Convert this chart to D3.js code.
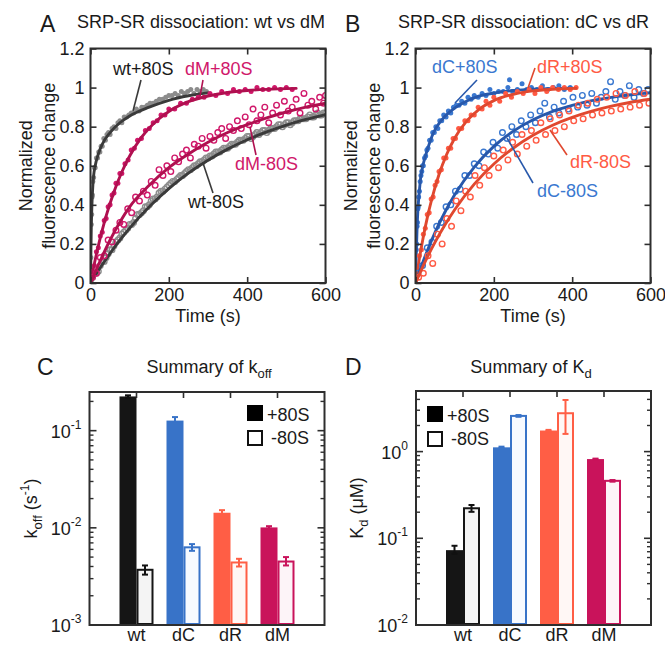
<!DOCTYPE html>
<html><head><meta charset="utf-8">
<script src="https://cdn.jsdelivr.net/npm/d3@7"></script>
<style>
body{margin:0;background:#fff}
svg{display:block}
text{font-family:Arial,"Liberation Sans",Helvetica,sans-serif;fill:#1a1a1a}
</style>
</head><body>
<svg id="fig" width="665" height="646"></svg>
<script>
// ---------- Kinetic traces: [time (s), normalized fluorescence change] ----------
const wtPlusPts = [[0,0.01],[1,0.13],[2,0.30],[3,0.35],[4,0.44],[5,0.45],[6,0.52],[8,0.54],[10,0.59],[12,0.59],[15,0.64],[18,0.64],[21,0.67],[24,0.67],[27,0.70],[30,0.70],[34,0.74],[38,0.73],[42,0.76],[46,0.77],[50,0.76],[55,0.79],[60,0.80],[65,0.79],[70,0.82],[75,0.83],[80,0.82],[86,0.85],[92,0.85],[98,0.86],[104,0.87],[110,0.87],[117,0.89],[124,0.88],[131,0.90],[138,0.90],[145,0.91],[152,0.92],[160,0.92],[168,0.93],[176,0.94],[184,0.94],[192,0.95],[200,0.96],[208,0.96],[216,0.97],[224,0.96],[232,0.98],[240,0.97],[248,0.98],[256,0.99],[264,0.97],[272,0.99],[280,0.98],[288,0.99],[296,0.98]];
const wtPlusFit = [[0,0],[1,0.15],[2,0.28],[3,0.36],[4,0.42],[6,0.50],[8,0.55],[12,0.60],[20,0.66],[30,0.71],[50,0.77],[75,0.82],[100,0.855],[150,0.90],[200,0.935],[250,0.958],[300,0.973]];
const wtMinusPts = [[0,0.00],[5,0.03],[10,0.05],[15,0.05],[20,0.06],[25,0.09],[30,0.11],[35,0.11],[40,0.13],[45,0.15],[50,0.17],[55,0.17],[60,0.19],[65,0.21],[70,0.22],[75,0.23],[80,0.25],[85,0.26],[90,0.27],[95,0.28],[100,0.30],[105,0.30],[110,0.31],[115,0.33],[120,0.35],[125,0.35],[130,0.36],[135,0.37],[140,0.39],[145,0.39],[150,0.40],[155,0.42],[160,0.43],[165,0.43],[170,0.44],[175,0.46],[180,0.47],[185,0.47],[190,0.48],[195,0.49],[200,0.50],[205,0.51],[210,0.52],[215,0.52],[220,0.53],[225,0.54],[230,0.55],[235,0.55],[240,0.56],[245,0.57],[250,0.58],[255,0.58],[260,0.59],[265,0.60],[270,0.60],[275,0.61],[280,0.62],[285,0.62],[290,0.63],[295,0.64],[300,0.64],[305,0.65],[310,0.65],[315,0.66],[320,0.67],[325,0.67],[330,0.67],[335,0.68],[340,0.69],[345,0.69],[350,0.69],[355,0.70],[360,0.71],[365,0.71],[370,0.71],[375,0.72],[380,0.73],[385,0.73],[390,0.73],[395,0.74],[400,0.75],[405,0.75],[410,0.74],[415,0.75],[420,0.76],[425,0.77],[430,0.76],[435,0.77],[440,0.78],[445,0.78],[450,0.77],[455,0.78],[460,0.79],[465,0.79],[470,0.79],[475,0.80],[480,0.81],[485,0.81],[490,0.80],[495,0.81],[500,0.82],[505,0.82],[510,0.81],[515,0.82],[520,0.83],[525,0.83],[530,0.83],[535,0.84],[540,0.84],[545,0.84],[550,0.84],[555,0.85],[560,0.86],[565,0.85],[570,0.85],[575,0.86],[580,0.87],[585,0.86],[590,0.86],[595,0.87],[600,0.87]];
const wtMinusFit = [[0,0],[25,0.079],[50,0.152],[75,0.219],[100,0.281],[150,0.390],[200,0.483],[250,0.562],[300,0.628],[350,0.685],[400,0.733],[450,0.773],[500,0.808],[550,0.837],[600,0.862]];
const dMPlusPts = [[0,0.0],[5,0.06],[10,0.09],[15,0.16],[20,0.18],[25,0.24],[30,0.26],[35,0.32],[40,0.33],[45,0.39],[50,0.40],[55,0.45],[60,0.46],[65,0.51],[70,0.51],[75,0.56],[80,0.56],[88,0.61],[96,0.63],[104,0.68],[112,0.69],[120,0.73],[130,0.74],[140,0.78],[150,0.79],[160,0.82],[170,0.83],[180,0.86],[190,0.86],[200,0.89],[215,0.89],[230,0.92],[245,0.92],[260,0.94],[275,0.95],[290,0.95],[305,0.97],[320,0.96],[335,0.98],[350,0.97],[365,0.99],[380,0.98],[395,0.99],[410,0.98],[425,1.00],[440,0.99],[455,0.99],[470,1.00],[485,0.99],[500,1.00],[515,0.99]];
const dMPlusFit = [[0,0],[10,0.10],[20,0.19],[30,0.27],[40,0.343],[60,0.467],[80,0.568],[100,0.65],[130,0.745],[160,0.814],[200,0.878],[250,0.928],[300,0.957],[350,0.975],[400,0.985],[450,0.991],[525,0.996]];
const dMMinusPts = [[5,0.03],[15,0.05],[25,0.13],[35,0.14],[45,0.22],[55,0.21],[65,0.27],[75,0.31],[85,0.30],[95,0.38],[105,0.36],[115,0.44],[125,0.42],[135,0.47],[145,0.45],[155,0.52],[165,0.50],[175,0.58],[185,0.55],[195,0.60],[205,0.57],[215,0.64],[225,0.62],[235,0.66],[245,0.68],[255,0.64],[265,0.71],[275,0.70],[285,0.74],[295,0.69],[305,0.75],[315,0.73],[325,0.77],[335,0.79],[345,0.74],[355,0.80],[365,0.78],[375,0.83],[385,0.79],[395,0.85],[405,0.81],[415,0.89],[425,0.83],[435,0.86],[445,0.90],[455,0.82],[465,0.87],[475,0.91],[485,0.86],[495,0.93],[505,0.88],[515,0.90],[525,0.94],[535,0.87],[545,0.97],[555,0.91],[565,0.93],[575,0.89],[585,0.95],[595,0.92],[600,0.96]];
const dMMinusFit = [[0,0],[50,0.22],[100,0.39],[150,0.50],[200,0.59],[250,0.66],[300,0.72],[350,0.77],[400,0.81],[450,0.845],[500,0.875],[550,0.90],[600,0.92]];

const dCPlusPts = [[0,0.0],[1,0.08],[2,0.17],[3,0.20],[4,0.29],[5,0.31],[6,0.38],[7,0.39],[8,0.44],[10,0.47],[12,0.52],[14,0.55],[16,0.57],[18,0.60],[20,0.60],[23,0.64],[26,0.65],[29,0.68],[32,0.69],[36,0.73],[40,0.73],[44,0.77],[48,0.77],[52,0.80],[57,0.79],[62,0.83],[67,0.83],[72,0.86],[78,0.85],[84,0.88],[90,0.87],[97,0.90],[104,0.91],[111,0.91],[118,0.93],[126,0.92],[134,0.95],[142,0.94],[150,0.96],[160,0.95],[170,0.97],[180,0.96],[190,0.99],[200,0.97],[212,0.98],[224,0.98],[236,1.00],[240,1.04],[248,0.98],[260,0.99],[272,1.02],[284,0.99],[296,1.00],[310,0.99],[324,1.01],[338,0.99],[352,1.00],[366,1.01],[380,0.99],[395,1.00]];
const dCPlusFit = [[0,0],[2,0.15],[4,0.28],[6,0.37],[9,0.45],[13,0.535],[20,0.61],[30,0.68],[45,0.765],[65,0.83],[90,0.88],[120,0.92],[160,0.955],[200,0.972],[250,0.985],[300,0.992],[400,0.997]];
const dRPlusPts = [[0,0.01],[5,0.05],[10,0.14],[15,0.17],[20,0.25],[25,0.28],[30,0.35],[35,0.36],[40,0.43],[45,0.44],[50,0.50],[55,0.52],[60,0.57],[66,0.58],[72,0.64],[78,0.64],[84,0.69],[90,0.69],[96,0.74],[102,0.74],[110,0.79],[118,0.79],[126,0.83],[134,0.83],[142,0.86],[150,0.86],[160,0.90],[170,0.89],[180,0.93],[190,0.91],[200,0.95],[215,0.93],[230,0.97],[245,0.95],[260,0.98],[275,0.97],[290,0.99],[305,0.97],[320,1.00],[335,0.98],[350,1.00],[365,0.99],[380,1.00],[395,0.99],[410,1.00]];
const dRPlusFit = [[0,0],[10,0.126],[20,0.237],[30,0.333],[40,0.417],[60,0.555],[80,0.66],[100,0.741],[130,0.827],[160,0.885],[200,0.933],[250,0.966],[300,0.983],[350,0.991],[410,0.996]];
const dCMinusPts = [[6,0.05],[18,0.09],[30,0.18],[42,0.21],[54,0.29],[66,0.31],[78,0.39],[90,0.40],[102,0.47],[114,0.48],[126,0.55],[138,0.55],[150,0.61],[162,0.60],[174,0.67],[186,0.66],[198,0.72],[210,0.69],[222,0.77],[234,0.74],[246,0.80],[258,0.76],[270,0.83],[282,0.80],[294,0.86],[306,0.82],[318,0.88],[330,0.92],[342,0.85],[354,0.90],[366,0.87],[378,0.93],[390,0.89],[402,0.95],[414,0.90],[426,0.96],[438,0.91],[450,0.97],[462,0.92],[474,0.95],[486,0.98],[498,1.03],[510,0.94],[522,0.98],[534,0.96],[546,1.01],[558,0.95],[570,0.99],[582,0.97],[594,0.99]];
const dCMinusFit = [[0,0],[25,0.139],[50,0.259],[75,0.362],[100,0.451],[150,0.593],[200,0.699],[250,0.777],[300,0.835],[350,0.878],[400,0.909],[450,0.933],[500,0.950],[550,0.963],[600,0.973]];
const dRMinusPts = [[8,0.03],[20,0.05],[32,0.14],[44,0.10],[56,0.25],[68,0.20],[80,0.33],[92,0.29],[104,0.42],[116,0.37],[128,0.47],[140,0.44],[152,0.55],[164,0.50],[176,0.59],[188,0.55],[200,0.65],[212,0.59],[224,0.68],[236,0.63],[248,0.72],[260,0.66],[272,0.76],[284,0.70],[296,0.78],[308,0.73],[320,0.82],[332,0.76],[344,0.84],[356,0.78],[368,0.86],[380,0.80],[392,0.88],[404,0.83],[416,0.91],[428,0.84],[440,0.92],[452,0.86],[464,0.94],[476,0.87],[488,0.95],[500,0.88],[512,0.97],[524,0.89],[536,0.96],[548,0.90],[560,0.98],[572,0.91],[584,0.97],[596,0.92]];
const dRMinusFit = [[0,0],[25,0.111],[50,0.209],[75,0.297],[100,0.375],[150,0.506],[200,0.609],[250,0.691],[300,0.756],[350,0.807],[400,0.847],[450,0.879],[500,0.905],[550,0.925],[600,0.940]];

const timeTicks = [0, 200, 400, 600];
const fluorTicks = [0, 0.2, 0.4, 0.6, 0.8, 1, 1.2];

// ---------- Summary values ----------
const mutants = ["wt", "dC", "dR", "dM"];
const koffPlus  = [0.225, 0.127, 0.0143, 0.0101];
const koffPlusLo = [0.219, 0.118, 0.0135, 0.0098];
const koffPlusHi = [0.231, 0.138, 0.0152, 0.0104];
const koffMinus = [0.0037, 0.0063, 0.0044, 0.0045];
const koffMinusLo = [0.0033, 0.0058, 0.0040, 0.0041];
const koffMinusHi = [0.0041, 0.0068, 0.0048, 0.0050];
const kdPlus  = [0.073, 1.12, 1.75, 0.82];
const kdPlusLo = [0.066, 1.10, 1.72, 0.81];
const kdPlusHi = [0.082, 1.14, 1.78, 0.83];
const kdMinus = [0.222, 2.58, 2.77, 0.46];
const kdMinusLo = [0.202, 2.52, 1.60, 0.45];
const kdMinusHi = [0.242, 2.64, 3.94, 0.47];
const koffTicks = [1e-3, 1e-2, 1e-1];
const kdTicks = [1e-2, 1e-1, 1e0];

// ---------- Colours ----------
const C = {
  wt: {dot: "#8c8c8c", fit: "#3a3a3a", text: "#1a1a1a", bar: "#151515", light: "#f4f4f4"},
  dC: {dot: "#3a78d0", fit: "#2858ab", text: "#3a78d0", bar: "#3873c8", light: "#f7faff"},
  dR: {dot: "#ff5a44", fit: "#e0482f", text: "#ff5a44", bar: "#ff5e45", light: "#fff7f5"},
  dM: {dot: "#d0186a", fit: "#b01050", text: "#d0186a", bar: "#c9135b", light: "#fdf4f8"}
};

const svg = d3.select("#fig");
const FS = 18;
const AXIS = "#2e2e2e";

function txt(x, y, s, opt = {}) {
  const t = svg.append("text").attr("x", x).attr("y", y).attr("font-size", opt.size || FS)
    .attr("text-anchor", opt.anchor || "start").text(s);
  if (opt.fill) t.style("fill", opt.fill);
  return t;
}

// ---------- Kinetics panels ----------
function kineticsPanel(cfg) {
  const L = cfg.left, T = 48.5, W = 235, H = 234.5;
  const x = d3.scaleLinear().domain([0, 600]).range([L, L + W]);
  const y = d3.scaleLinear().domain([0, 1.2]).range([T + H, T]);
  const g = svg.append("g");
  const clipId = "clip" + cfg.letter;
  svg.append("clipPath").attr("id", clipId).append("rect")
    .attr("x", L).attr("y", T).attr("width", W).attr("height", H);
  const plot = g.append("g").attr("clip-path", `url(#${clipId})`);
  const line = d3.line().x(d => x(d[0])).y(d => y(d[1])).curve(d3.curveMonotoneX);

  cfg.series.forEach(s => {
    const sel = plot.append("g").selectAll("circle").data(s.pts).join("circle")
      .attr("cx", d => x(d[0])).attr("cy", d => y(d[1]));
    if (s.open) {
      sel.attr("r", 2.8).attr("fill", "none").attr("stroke", s.c.dot).attr("stroke-width", 1.4);
    } else {
      sel.attr("r", 2.5).attr("fill", s.c.dot);
    }
    plot.append("path").datum(s.fit).attr("d", line).attr("fill", "none")
      .attr("stroke", s.c.fit).attr("stroke-width", 2.9).attr("stroke-linecap", "round");
  });

  // axes with inward ticks on all four sides
  const axL = d3.axisLeft(y).tickValues(fluorTicks).tickSize(-6).tickPadding(6).tickFormat(d3.format("~g"));
  const axR = d3.axisRight(y).tickValues(fluorTicks).tickSize(-6).tickFormat("");
  const axB = d3.axisBottom(x).tickValues(timeTicks).tickSize(-6).tickPadding(5).tickFormat(d3.format("d"));
  const axT = d3.axisTop(x).tickValues(timeTicks).tickSize(-6).tickFormat("");
  [[axL, `translate(${L},0)`], [axR, `translate(${L + W},0)`], [axB, `translate(0,${T + H})`], [axT, `translate(0,${T})`]]
    .forEach(([ax, tr]) => {
      const a = g.append("g").attr("transform", tr).call(ax);
      a.select(".domain").remove();
      a.selectAll("line").attr("stroke", AXIS).attr("stroke-width", 1.6);
      a.selectAll("text").attr("font-size", FS).style("fill", "#1a1a1a")
        .attr("font-family", "Arial, 'Liberation Sans', sans-serif");
    });
  g.append("rect").attr("x", L).attr("y", T).attr("width", W).attr("height", H)
    .attr("fill", "none").attr("stroke", AXIS).attr("stroke-width", 2);

  // annotations with leader lines
  cfg.labels.forEach(lb => {
    svg.append("line").attr("x1", lb.line[0]).attr("y1", lb.line[1]).attr("x2", lb.line[2]).attr("y2", lb.line[3])
      .attr("stroke", lb.c.fit).attr("stroke-width", 1.6);
    txt(lb.x, lb.y, lb.text, {fill: lb.c.text});
  });

  txt(cfg.letterX, 32, cfg.letter, {size: 23});
  txt(cfg.titleX, 28, cfg.title, {anchor: "middle"});
  txt(L + W / 2, 322, "Time (s)", {anchor: "middle"});
  svg.append("text").attr("transform", `translate(${cfg.ylab[0]},${T + H / 2}) rotate(-90)`)
    .attr("text-anchor", "middle").attr("font-size", FS).text("Normalized");
  svg.append("text").attr("transform", `translate(${cfg.ylab[1]},${T + H / 2}) rotate(-90)`)
    .attr("text-anchor", "middle").attr("font-size", FS).text("fluorescence change");
}

kineticsPanel({
  letter: "A", letterX: 40, left: 90.5, titleX: 201, title: "SRP-SR dissociation: wt vs dM", ylab: [32, 55],
  series: [
    {pts: wtPlusPts, fit: wtPlusFit, c: C.wt, open: false},
    {pts: wtMinusPts, fit: wtMinusFit, c: C.wt, open: true},
    {pts: dMPlusPts, fit: dMPlusFit, c: C.dM, open: false},
    {pts: dMMinusPts, fit: dMMinusFit, c: C.dM, open: true}
  ],
  labels: [
    {text: "wt+80S", x: 113, y: 75, c: C.wt, line: [141, 80, 133, 111]},
    {text: "dM+80S", x: 185, y: 75, c: C.dM, line: [203, 80, 200, 96]},
    {text: "dM-80S", x: 235, y: 170, c: C.dM, line: [256, 155, 250, 127]},
    {text: "wt-80S", x: 188, y: 208, c: C.wt, line: [213, 193, 203, 163]}
  ]
});

kineticsPanel({
  letter: "B", letterX: 345, left: 415.5, titleX: 523.5, title: "SRP-SR dissociation: dC vs dR", ylab: [357, 380],
  series: [
    {pts: dCPlusPts, fit: dCPlusFit, c: C.dC, open: false},
    {pts: dRPlusPts, fit: dRPlusFit, c: C.dR, open: false},
    {pts: dCMinusPts, fit: dCMinusFit, c: C.dC, open: true},
    {pts: dRMinusPts, fit: dRMinusFit, c: C.dR, open: true}
  ],
  labels: [
    {text: "dC+80S", x: 432, y: 73, c: C.dC, line: [477, 80, 455, 103]},
    {text: "dR+80S", x: 537, y: 73, c: C.dR, line: [535, 68, 528, 88]},
    {text: "dR-80S", x: 570, y: 168, c: C.dR, line: [550, 130, 567, 155]},
    {text: "dC-80S", x: 537, y: 197, c: C.dC, line: [507, 138, 533, 183]}
  ]
});

// ---------- Summary bar panels ----------
function barPanel(cfg) {
  const L = cfg.left, T = cfg.top, W = 235, H = cfg.bottom - cfg.top;
  const x = d3.scaleLinear().domain([0, 5]).range([L, L + W]);
  const y = d3.scaleLog().domain(cfg.domain).range([T + H, T]);
  const g = svg.append("g");
  const bw = 17;

  mutants.forEach((m, i) => {
    const cx = x(i + 1), c = C[m];
    // +80S filled bar
    g.append("rect").attr("x", cx - bw).attr("y", y(cfg.plus[i])).attr("width", bw)
      .attr("height", y(cfg.domain[0]) - y(cfg.plus[i])).attr("fill", c.bar);
    // -80S open bar
    g.append("rect").attr("x", cx + 1).attr("y", y(cfg.minus[i])).attr("width", bw - 2)
      .attr("height", y(cfg.domain[0]) - y(cfg.minus[i]) - 1).attr("fill", c.light)
      .attr("stroke", c.bar).attr("stroke-width", 2);
    // error bars
    [[cx - bw / 2, cfg.plusLo[i], cfg.plusHi[i]], [cx + bw / 2, cfg.minusLo[i], cfg.minusHi[i]]].forEach(([ex, lo, hi]) => {
      const col = m === "wt" ? "#111" : c.bar;
      g.append("line").attr("x1", ex).attr("x2", ex).attr("y1", y(lo)).attr("y2", y(hi))
        .attr("stroke", col).attr("stroke-width", 2);
      [lo, hi].forEach(v => g.append("line").attr("x1", ex - 3).attr("x2", ex + 3).attr("y1", y(v)).attr("y2", y(v))
        .attr("stroke", col).attr("stroke-width", 2));
    });
    txt(cx, 641, m, {anchor: "middle"});
  });

  // log ticks: majors labelled as powers of ten, minors unlabelled
  const all = y.ticks();
  const minors = all.filter(v => !cfg.ticks.some(t => Math.abs(t - v) / t < 1e-9));
  [[L, 1], [L + W, -1]].forEach(([ax, dir]) => {
    cfg.ticks.forEach(v => g.append("line").attr("x1", ax).attr("x2", ax + dir * 7)
      .attr("y1", y(v)).attr("y2", y(v)).attr("stroke", AXIS).attr("stroke-width", 1.6));
    minors.forEach(v => g.append("line").attr("x1", ax).attr("x2", ax + dir * 4)
      .attr("y1", y(v)).attr("y2", y(v)).attr("stroke", AXIS).attr("stroke-width", 1.4));
  });
  [1, 2, 3, 4].forEach(v => g.append("line").attr("x1", x(v)).attr("x2", x(v))
    .attr("y1", T).attr("y2", T + 6).attr("stroke", AXIS).attr("stroke-width", 1.6));
  g.append("rect").attr("x", L).attr("y", T).attr("width", W).attr("height", H)
    .attr("fill", "none").attr("stroke", AXIS).attr("stroke-width", 2);

  cfg.ticks.forEach(v => {
    const e = Math.round(Math.log10(v));
    const t = svg.append("text").attr("x", L - 8).attr("y", y(v) + 7).attr("text-anchor", "end").attr("font-size", FS);
    t.append("tspan").text("10");
    t.append("tspan").attr("font-size", 12).attr("dy", -9).text(String(e));
  });

  // legend
  const lx = cfg.legend[0], ly = cfg.legend[1];
  g.append("rect").attr("x", lx).attr("y", ly).attr("width", 16).attr("height", 16).attr("fill", "#000");
  txt(lx + 20, ly + 16, "+80S");
  g.append("rect").attr("x", lx + 1).attr("y", ly + 26).attr("width", 14).attr("height", 14)
    .attr("fill", "#fff").attr("stroke", "#111").attr("stroke-width", 2);
  txt(lx + 24, ly + 39, "-80S");

  txt(cfg.letterX, 375, cfg.letter, {size: 23});
  const tt = svg.append("text").attr("x", cfg.titleX).attr("y", 373).attr("text-anchor", "middle").attr("font-size", FS);
  tt.append("tspan").text(cfg.title[0]);
  tt.append("tspan").attr("font-size", 13).attr("dy", 5).text(cfg.title[1]);

  const yl = svg.append("text").attr("transform", `translate(${cfg.ylabX},${T + H / 2}) rotate(-90)`)
    .attr("text-anchor", "middle").attr("font-size", FS);
  cfg.ylab(yl);
}

barPanel({
  letter: "C", letterX: 37, left: 89.5, top: 392, bottom: 625, domain: [1e-3, 0.25], ticks: koffTicks,
  plus: koffPlus, plusLo: koffPlusLo, plusHi: koffPlusHi, minus: koffMinus, minusLo: koffMinusLo, minusHi: koffMinusHi,
  legend: [247, 405], titleX: 209, title: ["Summary of k", "off"], ylabX: 37,
  ylab: t => {
    t.append("tspan").text("k");
    t.append("tspan").attr("font-size", 13).attr("dy", 5).text("off");
    t.append("tspan").attr("dy", -5).text(" (s");
    t.append("tspan").attr("font-size", 12).attr("dy", -8).text("-1");
    t.append("tspan").attr("dy", 8).text(")");
  }
});

barPanel({
  letter: "D", letterX: 345, left: 416, top: 391, bottom: 625, domain: [1e-2, 5], ticks: kdTicks,
  plus: kdPlus, plusLo: kdPlusLo, plusHi: kdPlusHi, minus: kdMinus, minusLo: kdMinusLo, minusHi: kdMinusHi,
  legend: [427, 406], titleX: 531, title: ["Summary of K", "d"], ylabX: 363,
  ylab: t => {
    t.append("tspan").text("K");
    t.append("tspan").attr("font-size", 13).attr("dy", 5).text("d");
    t.append("tspan").attr("dy", -5).text(" (\u03bcM)");
  }
});
</script>
</body></html>
